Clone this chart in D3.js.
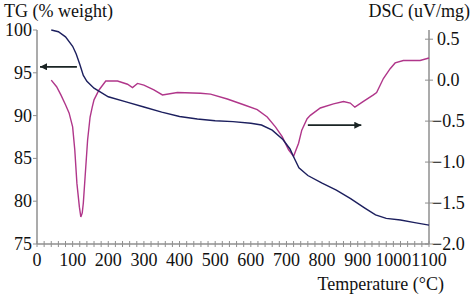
<!DOCTYPE html>
<html><head><meta charset="utf-8">
<script src="https://cdn.jsdelivr.net/npm/d3@7"></script>
<style>body{margin:0;background:#fff}svg{display:block}
svg text{font-family:"Liberation Serif","DejaVu Serif",serif;}</style>
</head><body><svg id="c" width="472" height="296"></svg>
<script>
const tgTemp = [40,60,80,100,110,120,130,140,160,200,250,300,350,400,450,500,550,600,630,660,690,710,720,735,760,800,840,880,920,950,980,1020,1060,1100];
const tgVals = [100.0,99.8,99.2,98.1,97.2,96.0,94.7,94.0,93.2,92.2,91.6,91.0,90.4,89.9,89.6,89.4,89.3,89.1,88.9,88.3,87.2,86.1,85.2,83.9,83.0,82.1,81.3,80.3,79.2,78.4,78.0,77.8,77.5,77.2];
const dscTemp = [40,55,67,80,90,100,106,112,119,123,127,130,135,142,149,155,160,174,193,226,254,268,282,300,328,352,394,459,487,534,580,618,646,669,688,706,720,734,743,758,767,795,832,860,879,892,916,944,953,972,991,1005,1028,1075,1100];
const dscVals = [0.0,-0.08,-0.18,-0.30,-0.40,-0.57,-0.85,-1.26,-1.55,-1.67,-1.62,-1.50,-1.18,-0.73,-0.45,-0.33,-0.24,-0.12,-0.01,-0.01,-0.05,-0.09,-0.04,-0.06,-0.12,-0.18,-0.15,-0.16,-0.17,-0.23,-0.30,-0.36,-0.45,-0.57,-0.69,-0.85,-0.93,-0.77,-0.61,-0.47,-0.43,-0.34,-0.29,-0.26,-0.28,-0.33,-0.26,-0.18,-0.15,0.02,0.14,0.21,0.24,0.24,0.27];
const xTicks = [0,100,200,300,400,500,600,700,800,900,1000,1100];
const tgTicks = [75,80,85,90,95,100];
const dscTicks = [-2.0,-1.5,-1.0,-0.5,0.0,0.5];

const svg = d3.select("#c");
const L = 37, R = 429, T = 30, B = 244;
const x = d3.scaleLinear().domain([0,1100]).range([L,R]);
const yL = d3.scaleLinear().domain([75,100]).range([B,T]);
const yR = d3.scaleLinear().domain([-2,0.6]).range([B,T+1]);
const axisCol = "#8f8f8f";
const txtCol = "#111";
const fs = 18;
const FF = "Liberation Serif";

const minor = d3.range(0,1101,20);
svg.append("g").selectAll("line").data(minor).join("line")
  .attr("x1",d=>x(d)).attr("x2",d=>x(d)).attr("y1",B-3).attr("y2",B+3)
  .attr("stroke",axisCol).attr("stroke-width",1);
svg.append("line").attr("x1",L).attr("x2",R).attr("y1",B).attr("y2",B).attr("stroke",axisCol).attr("stroke-width",1.5);
svg.append("line").attr("x1",L).attr("x2",L).attr("y1",T).attr("y2",B).attr("stroke",axisCol).attr("stroke-width",1.5);
svg.append("line").attr("x1",R).attr("x2",R).attr("y1",T).attr("y2",B).attr("stroke",axisCol).attr("stroke-width",1.5);

function txt(sel){ return sel.style("font-family",FF).attr("font-size",fs).attr("fill",txtCol); }

svg.append("g").selectAll("line").data(tgTicks).join("line")
  .attr("x1",L-4).attr("x2",L).attr("y1",d=>yL(d)).attr("y2",d=>yL(d)).attr("stroke",axisCol);
txt(svg.append("g").selectAll("text").data(tgTicks).join("text"))
  .attr("x",L-5).attr("y",d=>yL(d)+6).attr("text-anchor","end").text(d=>d);
svg.append("g").selectAll("line").data(dscTicks).join("line")
  .attr("x1",R-4).attr("x2",R+4).attr("y1",d=>yR(d)).attr("y2",d=>yR(d)).attr("stroke",axisCol);
const fmt = d=> (d<0?"\u2212":"") + Math.abs(d).toFixed(1);
txt(svg.append("g").selectAll("text").data(dscTicks).join("text"))
  .attr("x",d=>d<0?R+3:R+8).attr("y",d=>yR(d)+6).text(fmt);
txt(svg.append("g").selectAll("text").data(xTicks).join("text"))
  .attr("x",d=>x(d)).attr("y",B+22).attr("text-anchor","middle").text(d=>d);

txt(svg.append("text")).attr("x",4).attr("y",17).text("TG (% weight)");
txt(svg.append("text")).attr("x",470).attr("y",17).attr("text-anchor","end").text("DSC (uV/mg)");
txt(svg.append("text")).attr("x",444).attr("y",290).attr("text-anchor","end").text("Temperature (\u00B0C)");

const lineL = d3.line().x(d=>x(d[0])).y(d=>yL(d[1]));
const lineR = d3.line().x(d=>x(d[0])).y(d=>yR(d[1]));
svg.append("path").datum(dscTemp.map((t,i)=>[t,dscVals[i]])).attr("d",lineR)
  .attr("fill","none").attr("stroke","#b0368a").attr("stroke-width",1.4);
svg.append("path").datum(tgTemp.map((t,i)=>[t,tgVals[i]])).attr("d",lineL)
  .attr("fill","none").attr("stroke","#1c1f5e").attr("stroke-width",1.4);

const defs = svg.append("defs");
defs.append("marker").attr("id","ah").attr("viewBox","0 0 10 10").attr("refX",10).attr("refY",5)
  .attr("markerWidth",10).attr("markerHeight",7).attr("markerUnits","userSpaceOnUse").attr("orient","auto")
  .append("path").attr("d","M0,0L10,5L0,10Z").attr("fill","#1a2424");
svg.append("line").attr("x1",x(112)).attr("y1",yL(95.7)).attr("x2",L+3).attr("y2",yL(95.7))
  .attr("stroke","#1a2424").attr("stroke-width",1.8).attr("marker-end","url(#ah)");
svg.append("line").attr("x1",x(760)).attr("y1",yR(-0.55)).attr("x2",x(910)).attr("y2",yR(-0.55))
  .attr("stroke","#1a2424").attr("stroke-width",1.8).attr("marker-end","url(#ah)");
</script></body></html>
